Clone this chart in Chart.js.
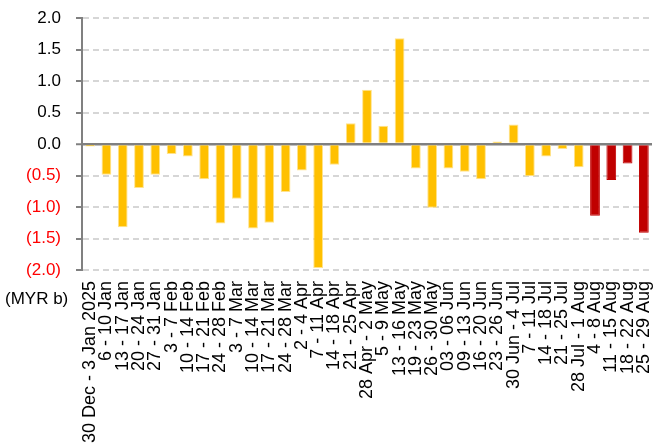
<!DOCTYPE html>
<html>
<head>
<meta charset="utf-8">
<script src="https://cdn.jsdelivr.net/npm/chart.js@4"></script>
<style>
    html, body { margin: 0; padding: 0; background: #fff; }
    #wrap { width: 665px; height: 444px; }
</style>
</head>
<body>
<div id="wrap"><canvas id="flowChart"></canvas></div>
<script>
// Weekly flows, MYR b
const weeks = [
    '30 Dec - 3 Jan 2025', '6 - 10 Jan', '13 - 17 Jan', '20 - 24 Jan', '27 - 31 Jan',
    '3 - 7 Feb', '10 - 14 Feb', '17 - 21 Feb', '24 - 28 Feb', '3 - 7 Mar',
    '10 - 14 Mar', '17 - 21 Mar', '24 - 28 Mar', '2 - 4 Apr', '7 - 11 Apr',
    '14 - 18 Apr', '21 - 25 Apr', '28 Apr - 2 May', '5 - 9 May', '13 - 16 May',
    '19 - 23 May', '26 - 30 May', '03 - 06 Jun', '09 - 13 Jun', '16 - 20 Jun',
    '23 - 26 Jun', '30 Jun - 4 Jul', '7 - 11 Jul', '14 - 18 Jul', '21 - 25 Jul',
    '28 Jul - 1 Aug', '4 - 8 Aug', '11 - 15 Aug', '18 - 22 Aug', '25 - 29 Aug'
];
const flows = [
    -0.04, -0.49, -1.32, -0.70, -0.49,
    -0.16, -0.20, -0.56, -1.26, -0.87,
    -1.34, -1.25, -0.76, -0.42, -1.97,
    -0.33, 0.33, 0.86, 0.29, 1.68,
    -0.39, -1.01, -0.39, -0.44, -0.56,
    0.04, 0.31, -0.51, -0.20, -0.08,
    -0.37, -1.14, -0.57, -0.31, -1.41
];
const highlightWeeks = ['4 - 8 Aug', '11 - 15 Aug', '18 - 22 Aug', '25 - 29 Aug'];
const yTicks = [-2, -1.5, -1, -0.5, 0, 0.5, 1, 1.5, 2];
const unitLabel = '(MYR b)';

const FONT = '"Liberation Sans", Arial, sans-serif';

// unit label sits under the y axis, left of the x labels
const unitPlugin = {
    id: 'unitLabel',
    afterDraw(chart) {
        const c = chart.ctx;
        c.save();
        c.font = '17px ' + FONT;
        c.fillStyle = '#000';
        c.textAlign = 'left';
        c.textBaseline = 'middle';
        c.fillText(unitLabel, 5, chart.chartArea.bottom + 29);
        c.restore();
    }
};

const isZero = c => c.tick && c.tick.value === 0;
const isHighlight = c => highlightWeeks.includes(weeks[c.dataIndex]);

const ctx = document.getElementById('flowChart').getContext('2d');
const chart = new Chart(ctx, {
    type: 'bar',
    data: {
        labels: weeks,
        datasets: [{
            data: flows,
            backgroundColor: c => isHighlight(c) ? '#C00000' : '#FFC000',
            borderColor: c => isHighlight(c) ? '#C00000' : '#FFE38C',
            borderWidth: 1,
            barPercentage: 0.6,
            categoryPercentage: 1
        }]
    },
    options: {
        responsive: true,
        maintainAspectRatio: false,
        animation: false,
        layout: { padding: { top: 18, right: 13, left: 0, bottom: 0 } },
        plugins: { legend: { display: false } },
        scales: {
            x: {
                grid: { display: false, drawTicks: false },
                border: { display: false },
                ticks: {
                    autoSkip: false,
                    maxRotation: 90,
                    minRotation: 90,
                    padding: 11,
                    color: '#000',
                    font: { size: 18, family: FONT }
                },
                afterFit: scale => {
                    scale.height = 174;
                    scale.paddingLeft = 0;
                    scale.paddingRight = 0;
                }
            },
            y: {
                min: -2,
                max: 2,
                afterBuildTicks: scale => { scale.ticks = yTicks.map(v => ({ value: v })); },
                border: {
                    display: true,
                    color: '#808080',
                    width: 2,
                    dash: c => isZero(c) ? [] : [6, 4]
                },
                grid: {
                    color: c => isZero(c) ? '#808080' : '#d6d6d6',
                    lineWidth: c => isZero(c) ? 2.5 : 2,
                    tickColor: '#808080',
                    tickLength: 6,
                    tickWidth: 2,
                    tickBorderDash: []
                },
                ticks: {
                    padding: 15,
                    font: { size: 17, family: FONT },
                    color: c => c.tick.value < 0 ? '#FF0000' : '#000',
                    callback: v => v < 0 ? '(' + Math.abs(v).toFixed(1) + ')' : v.toFixed(1)
                },
                afterFit: scale => {
                    scale.width = 82;
                    scale.paddingTop = 0;
                    scale.paddingBottom = 0;
                }
            }
        }
    },
    plugins: [unitPlugin]
});
</script>
</body>
</html>
